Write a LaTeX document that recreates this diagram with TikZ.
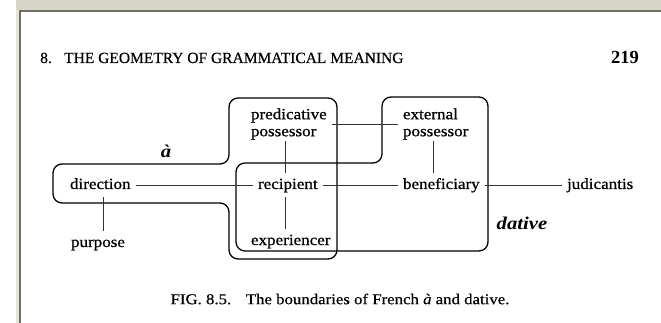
\documentclass[tikz,border=0pt]{standalone}
\usepackage{fontspec}
\setmainfont{Liberation Serif}
\newfontfamily\diagfont[FakeStretch=1.1, FakeBold=0.7]{Liberation Serif}
\newfontfamily\headfont[FakeBold=0.4]{Liberation Serif}
\newfontfamily\capfont[FakeStretch=1.12, FakeBold=0.4]{Liberation Serif}
\newfontfamily\boldlabfont[FakeStretch=1.15]{Liberation Serif}
\definecolor{barcol}{HTML}{D6D5C6}
\definecolor{stripcol}{HTML}{E6E5D6}
\definecolor{framedark}{HTML}{6E6E66}
\tikzset{
  lab/.style={font=\diagfont\fontsize{15.5}{17}\selectfont, inner sep=0pt, outer sep=5pt,
              text height=11pt, text depth=3.5pt, anchor=base west},
  lab2/.style={font=\diagfont\fontsize{15.5}{17}\selectfont, inner sep=0pt, outer sep=5pt,
              align=left, anchor=west},
  conn/.style={line width=0.8pt, black!80},
  region/.style={line width=1.3pt, black, rounded corners=9pt},
  biglab/.style={font=\boldlabfont\fontsize{18}{20}\selectfont\bfseries\itshape, inner sep=0pt}
}
\begin{document}
\begin{tikzpicture}[x=1pt,y=-1pt]
\useasboundingbox (0,0) rectangle (661,323);
\fill[white] (0,0) rectangle (661,323);
% frame of the scanned page
\fill[stripcol] (16,0) rectangle (19,323);
\fill[barcol] (16,0) rectangle (661,10);
\fill[framedark] (19,10) rectangle (21,323);
\fill[framedark] (19,10) rectangle (661,12);
% running head
\node[font=\headfont\fontsize{15.5}{17}\selectfont, inner sep=0pt, anchor=base west] (head) at (40,63)
  {8.\hspace{0.8em}THE GEOMETRY OF GRAMMATICAL MEANING};
\node[font=\fontsize{18.5}{20}\selectfont\bfseries, inner sep=0pt, anchor=base east] (page) at (639,64) {219};
% regions
\draw[region] (53,184) -- (53,164) -- (229,164) -- (229,98) -- (337,98) -- (337,259)
  -- (229,259) -- (229,203) -- (53,203) -- cycle;
\draw[region] (236,200) -- (236,163) -- (382,163) -- (382,97) -- (488,97) -- (488,251)
  -- (236,251) -- cycle;
% labels of regions
\node[biglab] (alab) at (166,151) {à};
\node[biglab] (dlab) at (522,223) {dative};
% nodes
\node[lab] (direction) at (65,189) {direction};
\node[lab] (purpose) at (66,247) {purpose};
\node[lab] (recipient) at (253,189) {recipient};
\node[lab] (experiencer) at (246,245) {experiencer};
\node[lab2] (pred) at (246,124) {predicative\\possessor};
\node[lab2] (ext) at (398,124) {external\\possessor};
\node[lab] (beneficiary) at (398,189) {beneficiary};
\node[lab] (judicantis) at (562,189) {judicantis};
% connectors
\draw[conn] (direction.east) -- (recipient.west);
\draw[conn] (recipient.east) -- (beneficiary.west);
\draw[conn] (beneficiary.east) -- (judicantis.west);
\draw[conn] (pred.east) -- (ext.west);
\draw[conn] ([xshift=3pt]direction.south) -- ([xshift=3pt]direction.south |- purpose.north);
\draw[conn] ([xshift=-2pt]recipient.south) -- ([xshift=-2pt]recipient.south |- experiencer.north);
\draw[conn, shorten <=-4pt] ([xshift=-3pt]pred.south) -- ([xshift=-3pt]pred.south |- recipient.north);
\draw[conn, shorten <=-4pt] ([xshift=-2pt]ext.south) -- ([xshift=-2pt]ext.south |- beneficiary.north);
% caption
\node[font=\capfont\fontsize{15}{17}\selectfont, inner sep=0pt] (caption) at (340,299)
  {FIG. 8.5.\hspace{0.6em} The boundaries of French \textit{à} and dative.};
\end{tikzpicture}
\end{document}
